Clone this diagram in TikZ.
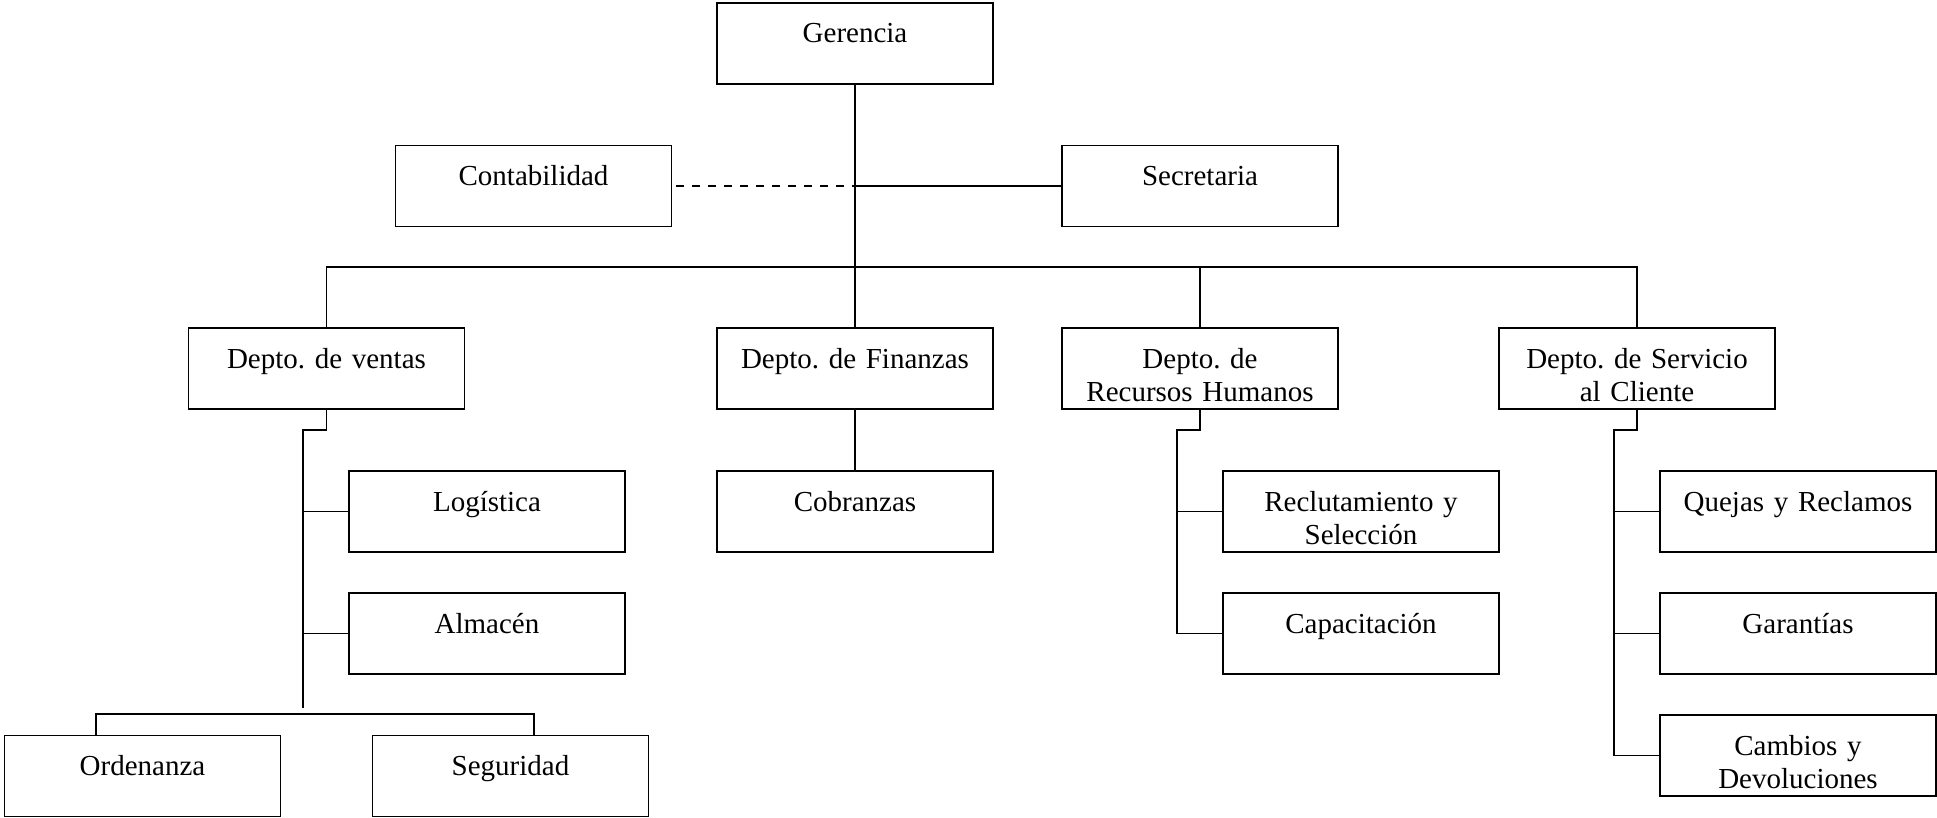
\documentclass[tikz,border=0pt]{standalone}
\usepackage{fontspec}
\setmainfont{Liberation Serif}
\frenchspacing
\begin{document}
\begin{tikzpicture}[x=0.5pt,y=-0.5pt,font=\fontsize{14.5}{16.5}\selectfont,
  box/.style={draw,line width=0.8pt,inner sep=0pt,text width=138pt,align=center,
    text height=20pt,text depth=20.5pt},
  wire/.style={line width=0.7pt}]
\useasboundingbox (0,0) rectangle (1937,818);
% top
\node[box] (ger)  at (855, 43.5) {Gerencia};
\node[box] (cont) at (533.5,186) {Contabilidad};
\node[box] (secr) at (1200,186)  {Secretaria};
% departamentos
\node[box] (ventas) at (326.5,368.5) {Depto. de ventas};
\node[box] (fin)    at (855,  368.5) {Depto. de Finanzas};
\node[box] (rrhh)   at (1200, 368.5) {Depto. de\\Recursos Humanos};
\node[box] (serv)   at (1637, 368.5) {Depto. de Servicio\\al Cliente};
% areas
\node[box] (log)  at (487,  511.5) {Log\'{\i}stica};
\node[box] (alm)  at (487,  633.5) {Almac\'en};
\node[box] (ord)  at (142.5,776)   {Ordenanza};
\node[box] (seg)  at (510.5,776)   {Seguridad};
\node[box] (cob)  at (855,  511.5) {Cobranzas};
\node[box] (recl) at (1361, 511.5) {Reclutamiento y\\Selecci\'on};
\node[box] (cap)  at (1361, 633.5) {Capacitaci\'on};
\node[box] (quej) at (1798, 511.5) {Quejas y Reclamos};
\node[box] (gar)  at (1798, 633.5) {Garant\'{\i}as};
\node[box] (camb) at (1798, 755.5) {Cambios y\\Devoluciones};
% connectors
\coordinate (bus) at (855,267);
\coordinate (vs)  at (303,430);
\coordinate (ve)  at (303,708);
\coordinate (oa)  at (96,714);
\coordinate (sa)  at (534,714);
\coordinate (rs)  at (1177,430);
\coordinate (ss)  at (1614,430);
\draw[wire] (ger) -- (fin);
\draw[wire] (secr.west) -- (secr.west -| ger.south);
\draw[wire,dash pattern=on 4pt off 4pt,shorten <=2pt] (cont.east) -- (cont.east -| ger.south);
\draw[wire] (ventas.north) |- (bus) -| (serv.north);
\draw[wire] (rrhh.north) -- (rrhh.north |- bus);
\draw[wire] (fin) -- (cob);
\draw[wire] (ventas.south) |- (vs) -- (ve);
\draw[wire] (log.west) -- (log.west -| vs);
\draw[wire] (alm.west) -- (alm.west -| vs);
\draw[wire] (oa |- ord.north) -- (oa) -- (sa) -- (sa |- seg.north);
\draw[wire] (rrhh.south) |- (rs) |- (cap.west);
\draw[wire] (recl.west) -- (recl.west -| rs);
\draw[wire] (serv.south) |- (ss) |- (camb.west);
\draw[wire] (quej.west) -- (quej.west -| ss);
\draw[wire] (gar.west) -- (gar.west -| ss);
\end{tikzpicture}
\end{document}
